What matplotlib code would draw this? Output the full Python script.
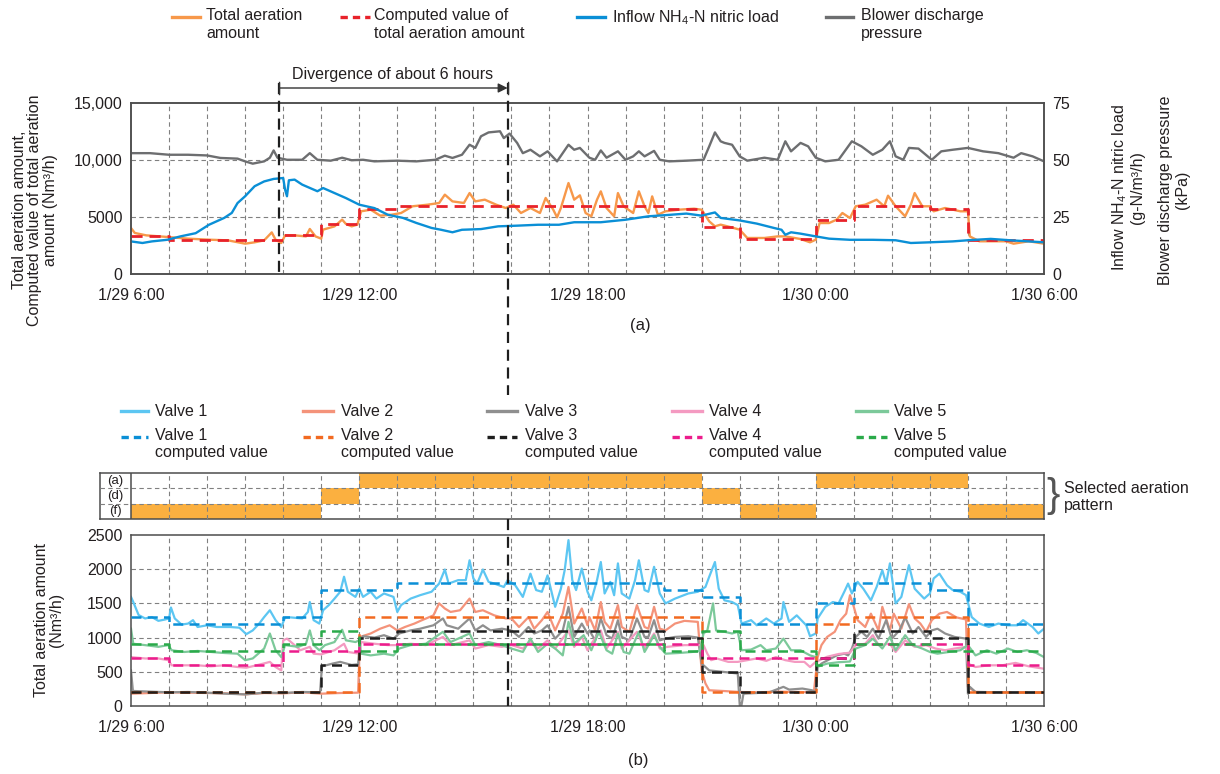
import numpy as np
import matplotlib
matplotlib.use('Agg')
import matplotlib.pyplot as plt
from matplotlib.lines import Line2D
from matplotlib import transforms

plt.rcParams['font.family'] = ['Liberation Sans', 'DejaVu Sans']
plt.rcParams['mathtext.fontset'] = 'custom'
plt.rcParams['mathtext.rm'] = 'Liberation Sans'
plt.rcParams['mathtext.it'] = 'Liberation Sans:italic'
plt.rcParams['font.size'] = 11.5
plt.rcParams['text.color'] = '#231f20'

# ---- data (hours after 1/29 6:00) ----
xtick_hours = [0, 6, 12, 18, 24]
xtick_labels = ['1/29 6:00', '1/29 12:00', '1/29 18:00', '1/30 0:00', '1/30 6:00']

# hourly computed values (step functions)
total_c = [3300, 3000, 3000, 3000, 3400, 4400, 5700, 6000, 6000, 6000, 6000, 6000,
           6000, 6000, 5700, 4100, 3100, 3100, 4700, 6000, 6000, 5700, 3000, 3000]
valve1_c = [1300, 1200, 1200, 1200, 1300, 1700, 1700, 1800, 1800, 1800, 1800, 1800,
            1800, 1800, 1700, 1600, 1200, 1200, 1500, 1800, 1800, 1700, 1200, 1200]
valve2_c = [200, 200, 200, 200, 200, 200, 1300, 1300, 1300, 1300, 1300, 1300,
            1300, 1300, 1300, 200, 200, 200, 1200, 1300, 1300, 1300, 200, 200]
valve3_c = [200, 200, 200, 200, 200, 600, 1000, 1100, 1100, 1100, 1100, 1100,
            1100, 1100, 1000, 500, 200, 200, 700, 1100, 1100, 1000, 200, 200]
valve4_c = [700, 600, 600, 600, 800, 800, 900, 900, 900, 900, 900, 900,
            900, 900, 900, 700, 700, 700, 700, 900, 900, 900, 600, 600]
valve5_c = [900, 800, 800, 800, 900, 1100, 800, 900, 900, 900, 900, 900,
            900, 900, 800, 1100, 800, 800, 600, 900, 900, 800, 800, 800]

pattern_rows = ['(f)', '(d)', '(a)']
pattern = ['(f)', '(f)', '(f)', '(f)', '(f)', '(d)', '(a)', '(a)', '(a)', '(a)', '(a)', '(a)',
           '(a)', '(a)', '(a)', '(d)', '(f)', '(f)', '(a)', '(a)', '(a)', '(a)', '(f)', '(f)']

total_air = [(0, 4035), (0.1, 3600), (0.4, 3390), (0.95, 3250), (1.5, 3100), (2.05, 3010), (2.55, 2950),
             (3.0, 2660), (3.25, 2780), (3.5, 2950), (3.7, 3650), (3.8, 3010), (3.95, 2720), (4.05, 3390),
             (4.3, 3390), (4.6, 3300), (4.7, 3950), (4.85, 3300), (5.0, 3100), (5.05, 3890), (5.35, 4180),
             (5.55, 4770), (5.65, 4390), (5.8, 4180), (5.95, 4330), (6.05, 5500), (6.3, 5640), (6.55, 5120),
             (6.85, 5200), (7.1, 5350), (7.4, 5940), (7.8, 6080), (8.1, 6230), (8.25, 6960), (8.45, 6370),
             (8.75, 6230), (8.9, 7100), (9.05, 6370), (9.3, 6520), (9.6, 6080), (9.85, 5790), (10.05, 6080),
             (10.25, 5350), (10.5, 5790), (10.75, 5350), (10.9, 6670), (11.1, 5640), (11.2, 4970),
             (11.3, 5790), (11.5, 7980), (11.65, 6520), (11.8, 6900), (11.95, 5350), (12.1, 5060),
             (12.25, 6520), (12.35, 7250), (12.5, 5790), (12.7, 5060), (12.8, 7100), (12.95, 5940),
             (13.2, 5350), (13.35, 7250), (13.5, 5940), (13.6, 5350), (13.7, 6810), (13.85, 5200),
             (14.05, 5500), (14.4, 5640), (14.8, 5730), (15.0, 5640), (15.2, 4620), (15.35, 4180),
             (15.5, 4330), (15.75, 4120), (16.0, 3890), (16.2, 3160), (16.65, 3160), (17.0, 3300),
             (17.2, 3300), (17.6, 3070), (17.85, 2780), (18.0, 3010), (18.1, 4470), (18.35, 4470),
             (18.55, 4770), (18.7, 5350), (18.9, 4910), (19.05, 5940), (19.3, 6080), (19.6, 6520),
             (19.8, 5940), (19.9, 6870), (20.1, 5940), (20.35, 5060), (20.5, 6080), (20.6, 7100),
             (20.8, 5940), (21.0, 5940), (21.1, 5500), (21.4, 5790), (21.8, 5500), (22.0, 5500),
             (22.05, 3300), (22.3, 2870), (23.0, 2870), (23.2, 2660), (23.6, 2870), (24.0, 2660)]

nh4_load = [(0, 14.3), (0.3, 13.6), (0.55, 14.3), (0.95, 15.0), (1.3, 16.5), (1.7, 17.9), (2.05, 21.6),
            (2.45, 24.6), (2.65, 26.8), (2.8, 31.1), (3.0, 34.1), (3.25, 38.5), (3.5, 40.6), (3.75, 41.7),
            (4.0, 42.1), (4.05, 37.0), (4.1, 34.1), (4.15, 41.1), (4.3, 41.4), (4.5, 39.2), (4.9, 36.3),
            (5.05, 37.7), (5.35, 35.5), (5.65, 33.3), (6.0, 30.4), (6.4, 28.9), (6.75, 26.0), (7.15, 24.6),
            (7.5, 22.4), (7.9, 20.2), (8.15, 19.4), (8.45, 18.3), (8.7, 19.4), (9.2, 19.7), (9.65, 20.9),
            (10.15, 21.2), (10.7, 21.6), (11.25, 21.6), (11.65, 22.7), (12.35, 22.7), (13.0, 23.8),
            (13.6, 25.3), (14.2, 26.0), (14.6, 26.5), (15.0, 25.6), (15.35, 27.0), (15.5, 24.6),
            (16.0, 23.5), (16.45, 22.1), (16.9, 20.2), (17.1, 19.4), (17.2, 17.2), (17.35, 18.3),
            (17.6, 17.7), (18.0, 16.5), (18.35, 15.5), (18.9, 15.0), (19.5, 15.0), (20.1, 14.8),
            (20.5, 13.6), (21.0, 13.9), (21.6, 14.3), (22.0, 14.8), (22.6, 15.4), (23.1, 14.8), (24.0, 13.9)]

blower = [(0, 53.0), (0.5, 53.0), (1.0, 52.3), (1.5, 52.3), (2.0, 52.0), (2.35, 50.9), (2.8, 50.6),
          (3.0, 49.4), (3.2, 48.4), (3.5, 49.4), (3.65, 51.0), (3.75, 54.2), (3.85, 51.0), (4.1, 50.1),
          (4.5, 50.1), (4.7, 53.0), (4.9, 50.1), (5.25, 49.7), (5.55, 51.0), (5.8, 49.9), (6.1, 50.1),
          (6.4, 49.4), (7.0, 49.7), (7.5, 49.4), (8.0, 50.1), (8.25, 51.9), (8.45, 50.9), (8.7, 52.3),
          (8.9, 56.7), (9.05, 55.3), (9.2, 60.4), (9.4, 62.1), (9.7, 62.6), (9.8, 59.6), (9.95, 61.6),
          (10.15, 57.5), (10.3, 53.0), (10.5, 54.5), (10.75, 51.6), (10.95, 53.8), (11.2, 49.4),
          (11.5, 56.7), (11.65, 54.5), (11.8, 55.3), (12.05, 51.0), (12.2, 50.1), (12.35, 54.2),
          (12.5, 51.0), (12.8, 53.8), (13.0, 50.1), (13.2, 51.6), (13.35, 53.8), (13.5, 51.6),
          (13.75, 54.0), (13.9, 50.1), (14.15, 49.4), (14.6, 49.7), (15.05, 50.1), (15.2, 56.0),
          (15.35, 62.1), (15.5, 58.2), (15.6, 57.5), (15.8, 56.7), (16.0, 51.6), (16.2, 49.7),
          (16.65, 51.0), (17.0, 50.1), (17.2, 58.2), (17.35, 53.8), (17.6, 57.5), (17.8, 56.0),
          (18.0, 51.0), (18.25, 49.4), (18.6, 50.1), (18.95, 58.2), (19.2, 56.0), (19.5, 52.3),
          (19.75, 54.5), (19.95, 58.2), (20.1, 51.6), (20.3, 50.1), (20.45, 55.3), (20.7, 55.0),
          (21.05, 50.1), (21.3, 53.8), (21.6, 54.5), (22.0, 55.3), (22.4, 53.8), (22.8, 53.0),
          (23.2, 51.0), (23.4, 53.0), (23.7, 51.6), (24.0, 49.4)]

valve1 = [(0, 1595), (0.06, 1520), (0.2, 1330), (0.37, 1280), (0.55, 1300), (0.72, 1245), (0.9, 1265),
          (1.0, 1280), (1.05, 1440), (1.15, 1280), (1.33, 1190), (1.5, 1205), (1.63, 1255), (1.75, 1155),
          (2.0, 1180), (2.25, 1155), (2.6, 1155), (2.85, 1145), (3.03, 1050), (3.2, 1105), (3.37, 1205),
          (3.5, 1300), (3.65, 1400), (3.8, 1255), (3.95, 1155), (4.05, 1295), (4.2, 1295), (4.5, 1280),
          (4.65, 1375), (4.7, 1520), (4.8, 1255), (4.95, 1205), (5.05, 1400), (5.2, 1475), (5.35, 1570),
          (5.5, 1670), (5.6, 1890), (5.7, 1670), (5.9, 1595), (6.0, 1715), (6.1, 1595), (6.3, 1670),
          (6.45, 1570), (6.65, 1645), (6.9, 1595), (7.0, 1375), (7.1, 1475), (7.35, 1570), (7.6, 1620),
          (7.9, 1670), (8.1, 1790), (8.25, 1995), (8.35, 1790), (8.6, 1840), (8.8, 1840), (8.9, 2130),
          (9.0, 1865), (9.1, 1790), (9.25, 1995), (9.4, 1815), (9.55, 1790), (9.8, 1740), (9.9, 1840),
          (10.1, 1765), (10.3, 1595), (10.4, 1765), (10.5, 1935), (10.65, 1695), (10.8, 1670),
          (10.95, 1910), (11.15, 1450), (11.3, 1715), (11.4, 1985), (11.5, 2425), (11.6, 1840),
          (11.7, 1695), (11.85, 2010), (12.0, 1670), (12.1, 1545), (12.25, 1840), (12.35, 2105),
          (12.45, 1645), (12.6, 1815), (12.7, 1620), (12.8, 2085), (12.9, 1645), (13.1, 1570),
          (13.25, 1840), (13.35, 2130), (13.5, 1695), (13.6, 1670), (13.75, 2035), (13.9, 1645),
          (14.05, 1500), (14.3, 1570), (14.65, 1645), (14.9, 1670), (15.1, 1740), (15.2, 1890),
          (15.35, 2105), (15.45, 1715), (15.6, 1545), (15.8, 1520), (15.95, 1475), (16.05, 1205),
          (16.3, 1255), (16.45, 1180), (16.7, 1280), (16.9, 1205), (17.1, 1280), (17.15, 1520),
          (17.3, 1230), (17.5, 1325), (17.75, 1180), (17.85, 1020), (18.0, 1060), (18.05, 1280),
          (18.25, 1450), (18.45, 1520), (18.6, 1500), (18.75, 1670), (18.85, 1790), (18.95, 1645),
          (19.1, 1815), (19.25, 1715), (19.45, 1545), (19.6, 1740), (19.75, 1985), (19.85, 1790),
          (19.95, 2085), (20.1, 1500), (20.25, 1595), (20.45, 2060), (20.6, 1715), (20.85, 1570),
          (21.0, 1645), (21.1, 1865), (21.25, 1935), (21.45, 1765), (21.6, 1695), (21.8, 1670),
          (21.95, 1620), (22.1, 1300), (22.3, 1205), (22.55, 1155), (22.8, 1205), (23.05, 1180),
          (23.3, 1180), (23.45, 1255), (23.7, 1155), (23.85, 1060), (24.0, 1130)]

valve2 = [(0, 180), (0.5, 190), (1.0, 200), (1.5, 195), (2.0, 190), (2.5, 185), (3.0, 170), (3.5, 190),
          (4.0, 185), (4.5, 200), (5.0, 180), (5.5, 190), (5.97, 195), (6.02, 1010), (6.3, 1060),
          (6.55, 1130), (6.8, 1180), (7.0, 1105), (7.2, 1155), (7.45, 1205), (7.65, 1255), (7.95, 1325),
          (8.1, 1500), (8.25, 1425), (8.4, 1375), (8.65, 1400), (8.9, 1570), (9.05, 1375), (9.25, 1400),
          (9.55, 1325), (9.85, 1280), (10.0, 1280), (10.2, 1155), (10.45, 1300), (10.6, 1130),
          (10.8, 1255), (10.95, 1375), (11.15, 1105), (11.35, 1350), (11.5, 1740), (11.65, 1205),
          (11.85, 1425), (12.0, 1180), (12.05, 1300), (12.2, 1105), (12.35, 1520), (12.45, 1230),
          (12.6, 1130), (12.8, 1475), (12.9, 1155), (13.1, 1085), (13.3, 1475), (13.5, 1155),
          (13.6, 1130), (13.75, 1450), (13.9, 1130), (14.05, 1105), (14.3, 1205), (14.55, 1245),
          (14.9, 1230), (15.0, 520), (15.1, 330), (15.2, 230), (15.55, 220), (16.0, 205), (16.5, 200),
          (17.0, 210), (17.5, 205), (17.95, 200), (18.05, 715), (18.15, 890), (18.3, 1010), (18.5, 1085),
          (18.65, 1255), (18.8, 1350), (18.9, 1620), (19.0, 1450), (19.1, 1255), (19.3, 1155),
          (19.45, 1350), (19.65, 1105), (19.75, 1450), (19.95, 1105), (20.05, 1350), (20.25, 1130),
          (20.45, 1490), (20.6, 1280), (20.75, 1205), (20.9, 1085), (21.05, 1255), (21.25, 1350),
          (21.45, 1375), (21.7, 1295), (21.95, 1265), (22.0, 280), (22.2, 205), (23.0, 200), (24.0, 195)]

valve3 = [(0, 520), (0.05, 220), (0.5, 210), (1.0, 200), (1.5, 205), (2.0, 195), (2.5, 180), (3.0, 170),
          (3.5, 195), (4.0, 190), (4.5, 205), (4.97, 200), (5.02, 580), (5.3, 620), (5.5, 645), (5.8, 600),
          (5.97, 610), (6.02, 960), (6.1, 1020), (6.4, 1000), (6.65, 1035), (6.9, 985), (7.05, 1060),
          (7.35, 1105), (7.6, 1130), (7.95, 1180), (8.2, 1280), (8.3, 1180), (8.6, 1130), (8.9, 1280),
          (9.05, 1105), (9.25, 1180), (9.45, 1105), (9.75, 1130), (10.0, 1105), (10.2, 1010),
          (10.45, 1155), (10.6, 1060), (10.8, 1105), (10.95, 1180), (11.15, 985), (11.35, 1105),
          (11.5, 1450), (11.65, 1010), (11.85, 1205), (12.0, 1060), (12.05, 1105), (12.2, 960),
          (12.35, 1280), (12.5, 1035), (12.65, 985), (12.8, 1255), (12.9, 1010), (13.1, 960),
          (13.3, 1280), (13.5, 1010), (13.6, 1010), (13.75, 1255), (13.9, 960), (14.05, 985),
          (14.3, 1010), (14.65, 1020), (14.9, 1000), (15.0, 620), (15.1, 570), (15.2, 520), (15.55, 500),
          (15.95, 475), (16.0, 30), (16.02, -80), (16.1, 180), (16.45, 190), (16.8, 205), (17.15, 280),
          (17.3, 240), (17.65, 255), (17.9, 230), (18.0, 205), (18.05, 570), (18.15, 620), (18.4, 695),
          (18.55, 740), (18.75, 765), (18.85, 740), (18.95, 840), (19.05, 1010), (19.2, 1085),
          (19.35, 1010), (19.5, 1130), (19.65, 985), (19.85, 1255), (20.0, 985), (20.2, 1105),
          (20.35, 1295), (20.55, 1060), (20.7, 1155), (20.9, 1010), (21.05, 1105), (21.2, 1130),
          (21.4, 1060), (21.65, 1010), (21.95, 985), (22.0, 180), (22.05, 280), (22.2, 205), (23.0, 200),
          (24.0, 195)]

valve4 = [(0, 715), (0.37, 695), (0.72, 695), (0.98, 670), (1.07, 595), (1.4, 595), (1.75, 595), (2.1, 580),
          (2.45, 595), (2.8, 570), (3.03, 560), (3.3, 595), (3.55, 630), (3.65, 645), (3.8, 570), (3.95, 520),
          (4.0, 960), (4.1, 985), (4.3, 890), (4.45, 815), (4.7, 865), (4.8, 765), (5.0, 755), (5.2, 790),
          (5.35, 815), (5.6, 910), (5.7, 790), (6.0, 765), (6.05, 935), (6.4, 910), (6.75, 890), (7.0, 890),
          (7.35, 910), (7.75, 890), (8.2, 1010), (8.4, 890), (8.9, 960), (9.05, 840), (9.4, 890),
          (9.75, 865), (10.0, 890), (10.3, 840), (10.5, 935), (10.7, 840), (10.95, 960), (11.15, 840),
          (11.5, 1105), (11.65, 865), (11.85, 1010), (12.0, 815), (12.1, 910), (12.35, 1105), (12.5, 840),
          (12.8, 1085), (12.9, 840), (13.3, 1085), (13.5, 840), (13.75, 1060), (13.9, 840), (14.1, 865),
          (14.55, 890), (15.05, 890), (15.15, 765), (15.25, 670), (15.4, 695), (15.7, 645), (15.95, 645),
          (16.2, 670), (16.45, 695), (16.7, 660), (16.95, 715), (17.2, 670), (17.45, 645), (17.7, 645),
          (17.85, 570), (18.0, 645), (18.3, 720), (18.6, 760), (18.9, 780), (19.05, 890), (19.3, 910),
          (19.5, 1035), (19.65, 890), (19.95, 910), (20.1, 790), (20.35, 960), (20.6, 865), (20.9, 890),
          (21.15, 840), (21.4, 815), (21.65, 840), (21.95, 865), (22.0, 620), (22.2, 570), (22.55, 595),
          (22.9, 595), (23.25, 630), (23.6, 580), (24.0, 545)]

valve5 = [(0, 1130), (0.06, 910), (0.37, 890), (0.72, 865), (0.98, 890), (1.07, 815), (1.4, 790), (1.75, 805),
          (2.1, 790), (2.45, 775), (2.8, 765), (3.0, 670), (3.2, 695), (3.5, 840), (3.65, 1060), (3.8, 815),
          (3.95, 715), (4.05, 890), (4.4, 865), (4.6, 910), (4.7, 1105), (4.8, 890), (4.95, 815), (5.1, 890),
          (5.35, 935), (5.55, 1115), (5.65, 960), (5.9, 935), (6.0, 960), (6.05, 765), (6.3, 740),
          (6.65, 765), (6.9, 740), (7.05, 840), (7.35, 890), (7.75, 910), (8.2, 1085), (8.4, 935),
          (8.9, 1060), (9.05, 890), (9.4, 935), (9.75, 890), (10.0, 840), (10.3, 790), (10.5, 985),
          (10.7, 790), (10.95, 910), (11.15, 840), (11.35, 740), (11.5, 1230), (11.65, 910), (11.9, 1035),
          (12.1, 815), (12.3, 1085), (12.5, 815), (12.65, 765), (12.8, 1060), (12.95, 790), (13.1, 765),
          (13.35, 1085), (13.5, 790), (13.75, 1035), (13.9, 865), (14.05, 765), (14.4, 775), (14.75, 790),
          (14.95, 805), (15.05, 1060), (15.15, 1105), (15.3, 1500), (15.38, 1105), (15.6, 1085),
          (15.8, 1060), (15.95, 1085), (16.05, 815), (16.3, 825), (16.55, 890), (16.7, 815), (16.95, 840),
          (17.15, 985), (17.35, 815), (17.6, 815), (17.85, 740), (18.0, 715), (18.05, 575), (18.3, 620),
          (18.6, 640), (18.9, 650), (19.05, 840), (19.3, 890), (19.5, 985), (19.75, 840), (19.95, 1010),
          (20.1, 815), (20.35, 1035), (20.55, 890), (20.8, 840), (21.0, 790), (21.2, 765), (21.5, 790),
          (21.8, 815), (22.0, 890), (22.2, 740), (22.5, 815), (22.75, 765), (23.05, 840), (23.3, 790),
          (23.55, 815), (23.8, 775), (24.0, 715)]

# divergence markers (hours after 6:00)
div_start, div_end = 3.9, 9.9

# ---- styling ----
W, H = 1220, 774
def fx(px):
    return px / W
def fy(py):
    return 1 - py / H

grid_kw = dict(color='#808080', lw=0.8, ls=(0, (4, 3)), zorder=0.5)
spine_c = '#4d4d4d'
txt_c = '#231f20'

c_total = '#f7984a'
c_total_c = '#e8222a'
c_nh4 = '#0a8fd6'
c_blower = '#6d6e70'
valve_cols = ['#5cc6f2', '#f4937a', '#8f8f8f', '#f49ac1', '#7cc99a']
valve_ccols = ['#0a8fd6', '#f26a21', '#1e1e1e', '#ec1c8c', '#2aaa4a']

def xy(pairs):
    a = np.array(pairs, dtype=float)
    return a[:, 0], a[:, 1]

def steps(vals):
    return np.arange(25), list(vals) + [vals[-1]]

def frame(ax):
    for s in ax.spines.values():
        s.set_color(spine_c)
        s.set_linewidth(1.1)
    ax.tick_params(length=0, labelsize=11.5, colors=txt_c)

fig = plt.figure(figsize=(12.2, 7.74), dpi=100)

# ---- (a) top chart ----
ax1 = fig.add_axes([fx(131), fy(274), fx(913), 171 / H])
ax1r = ax1.twinx()
for h in range(1, 24):
    ax1.axvline(h, **grid_kw)
for v in [5000, 10000]:
    ax1.axhline(v, **grid_kw)
t, v = xy(total_air)
ax1.plot(t, v, color=c_total, lw=1.7, zorder=2)
sx, sy = steps(total_c)
ax1.plot(sx, sy, color=c_total_c, lw=2, ls=(0, (4, 2.5)), drawstyle='steps-post', zorder=3)
t, v = xy(nh4_load)
ax1r.plot(t, v, color=c_nh4, lw=1.7)
t, v = xy(blower)
ax1r.plot(t, v, color=c_blower, lw=1.7)
ax1.set_xlim(0, 24)
ax1.set_ylim(0, 15000)
ax1r.set_ylim(0, 75)
ax1.set_xticks(xtick_hours)
ax1.set_xticklabels(xtick_labels)
ax1.set_yticks([0, 5000, 10000, 15000])
ax1.set_yticklabels(['0', '5000', '10,000', '15,000'])
ax1r.set_yticks([0, 25, 50, 75])
frame(ax1)
frame(ax1r)
ax1.tick_params(axis='x', pad=10)
ax1.tick_params(axis='y', pad=6)
ax1r.tick_params(axis='y', pad=6)

# ---- selected aeration pattern ----
label_col = 31 / 38
axp = fig.add_axes([fx(100), fy(519), fx(944), 46 / H])
rows = [pattern_rows.index(p) for p in pattern]
axp.bar(np.arange(24), np.ones(24), bottom=rows, width=1, align='edge', color='#fbb040', zorder=1)
for h in range(1, 24):
    axp.axvline(h, **dict(grid_kw, zorder=3))
for r in [1, 2]:
    axp.axhline(r, **dict(grid_kw, zorder=3))
axp.axvline(0, color=spine_c, lw=1.1, zorder=4)
axp.set_xlim(-label_col, 24)
axp.set_ylim(0, 3)
axp.set_xticks([])
axp.set_yticks([])
for i, name in enumerate(pattern_rows):
    axp.text(-label_col / 2, i + 0.5, name, ha='center', va='center', fontsize=9.5, color=txt_c)
frame(axp)

# ---- (b) bottom chart ----
ax2 = fig.add_axes([fx(131), fy(706), fx(913), 171 / H])
for h in range(1, 24):
    ax2.axvline(h, **grid_kw)
for v in [500, 1000, 1500, 2000]:
    ax2.axhline(v, **grid_kw)
for series, col in zip([valve1, valve2, valve3, valve4, valve5], valve_cols):
    t, v = xy(series)
    ax2.plot(t, v, color=col, lw=1.6, zorder=2)
for vals, col in zip([valve1_c, valve2_c, valve3_c, valve4_c, valve5_c], valve_ccols):
    sx, sy = steps(vals)
    ax2.plot(sx, sy, color=col, lw=1.8, ls=(0, (4, 2.5)), drawstyle='steps-post', zorder=3)
ax2.set_xlim(0, 24)
ax2.set_ylim(0, 2500)
ax2.set_xticks(xtick_hours)
ax2.set_xticklabels(xtick_labels)
ax2.set_yticks([0, 500, 1000, 1500, 2000, 2500])
frame(ax2)
ax2.tick_params(axis='x', pad=10)
ax2.tick_params(axis='y', pad=6)

# ---- axis titles ----
fig.text(fx(35), fy(210), 'Total aeration amount,\nComputed value of total aeration\namount (Nm³/h)',
         rotation=90, ha='center', va='center', multialignment='center', linespacing=1.08)
fig.text(fx(1128), fy(188), 'Inflow NH$_4$-N nitric load\n(g-N/m³/h)',
         rotation=90, ha='center', va='center', multialignment='center', linespacing=1.1)
fig.text(fx(1174), fy(190), 'Blower discharge pressure\n(kPa)',
         rotation=90, ha='center', va='center', multialignment='center', linespacing=1.1)
fig.text(fx(49), fy(620), 'Total aeration amount\n(Nm³/h)',
         rotation=90, ha='center', va='center', multialignment='center', linespacing=1.05)
fig.text(fx(640), fy(326), '(a)', ha='center', va='center', fontsize=12)
fig.text(fx(638), fy(760), '(b)', ha='center', va='center', fontsize=12)

# ---- legends (drawn by hand to keep handles on first text line) ----
def handle(x0, x1, y, color, ls='-', lw=2.4):
    fig.add_artist(Line2D([fx(x0), fx(x1)], [fy(y), fy(y)], transform=fig.transFigure,
                          color=color, ls=ls, lw=lw))

dash_handle = (0, (2.2, 1.5))
top_leg = [(172, 200, 206, c_total, '-', 'Total aeration\namount'),
           (340, 370, 374, c_total_c, dash_handle, 'Computed value of\ntotal aeration amount'),
           (577, 605, 612, c_nh4, '-', 'Inflow NH$_4$-N nitric load'),
           (826, 853, 861, c_blower, '-', 'Blower discharge\npressure')]
for x0, x1, xt, col, ls, lab in top_leg:
    handle(x0, x1, 17, col, ls)
    fig.text(fx(xt), fy(8), lab, ha='left', va='top', linespacing=1.25)

valve_x = [(121, 148, 155), (303, 333, 341), (487, 517, 525), (672, 702, 709), (856, 887, 894)]
for i, (x0, x1, xt) in enumerate(valve_x):
    handle(x0, x1, 411, valve_cols[i])
    fig.text(fx(xt), fy(411), 'Valve %d' % (i + 1), ha='left', va='center')
    handle(x0, x1, 437, valve_ccols[i], dash_handle)
    fig.text(fx(xt), fy(428), 'Valve %d\ncomputed value' % (i + 1), ha='left', va='top', linespacing=1.2)

fig.text(fx(1046), fy(496), '}', ha='left', va='center', fontsize=29, color='#555555')
fig.text(fx(1064), fy(497), 'Selected aeration\npattern', ha='left', va='center', linespacing=1.15)

# ---- divergence annotation ----
blend = transforms.blended_transform_factory(ax1.transData, fig.transFigure)
fig.add_artist(Line2D([div_start, div_start], [fy(83), fy(274)], transform=blend,
                      color='#1e1e1e', lw=1.6, ls=(0, (5, 3))))
fig.add_artist(Line2D([div_end, div_end], [fy(83), fy(395)], transform=blend,
                      color='#1e1e1e', lw=1.6, ls=(0, (5, 3))))
blend2 = transforms.blended_transform_factory(ax2.transData, fig.transFigure)
fig.add_artist(Line2D([div_end, div_end], [fy(519), fy(706)], transform=blend2,
                      color='#1e1e1e', lw=1.6, ls=(0, (5, 3)), zorder=5))
ax1.annotate('', xy=(div_end, fy(88)), xytext=(div_start, fy(88)), xycoords=blend, textcoords=blend,
             arrowprops=dict(arrowstyle='-|>', color='#333333', lw=1.0, mutation_scale=14,
                             shrinkA=0, shrinkB=0), annotation_clip=False)
for xe in [div_start, div_end]:
    fig.add_artist(Line2D([xe, xe], [fy(82), fy(94)], transform=blend, color='#333333', lw=1.0))
fig.text(fx(393), fy(74), 'Divergence of about 6 hours', ha='center', va='center')

fig.savefig('out.png', dpi=100)
